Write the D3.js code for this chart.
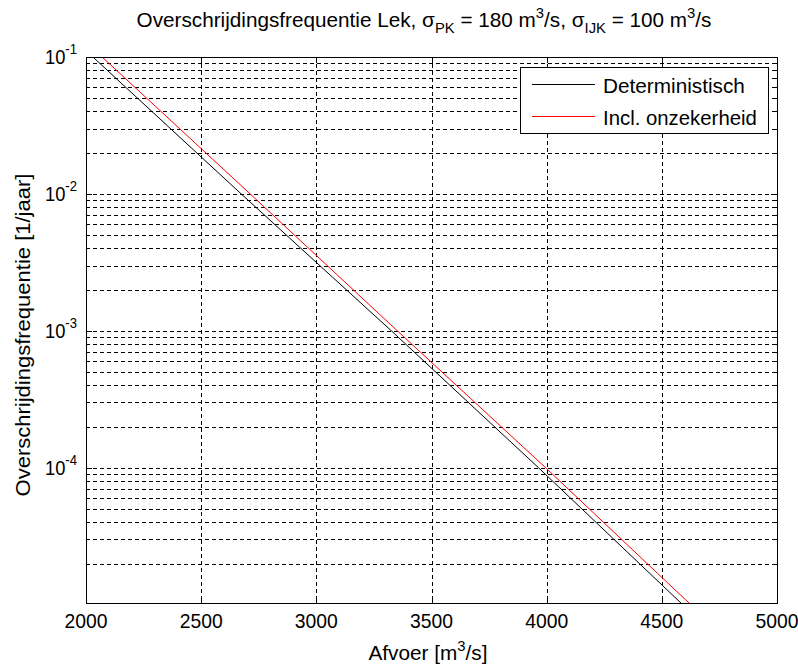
<!DOCTYPE html>
<html><head><meta charset="utf-8">
<script src="https://cdn.jsdelivr.net/npm/d3@7"></script>
<style>body{margin:0;background:#fff}svg{display:block}text{font-family:"Liberation Sans",Arial,sans-serif;fill:#000}</style>
</head><body>
<script>
// ---- data ----
const xTicks = [2000, 2500, 3000, 3500, 4000, 4500, 5000];
const yDecades = [1e-1, 1e-2, 1e-3, 1e-4];
const yDecadeExp = ["-1", "-2", "-3", "-4"];
const freq = [1e-1, 1e-2, 1e-3, 1e-4, 1e-5];
const afvoerDet = [2030, 2674, 3326, 3965, 4591];
const afvoerOnz = [2070, 2713, 3352, 3996, 4626];
const seriesNames = ["Deterministisch", "Incl. onzekerheid"];
const seriesColors = ["#000000", "#ff0000"];

const W = 798, H = 667;
const L = 86, R = 777, T = 57, B = 603;
const svg = d3.select("body").append("svg").attr("width", W).attr("height", H);
const x = d3.scaleLinear().domain([2000, 5000]).range([L, R]);
const y = d3.scaleLog().domain([1.03e-5, 0.1]).range([B, T]);
const FS = 21, SFS = 15;

// squeeze a text element horizontally to a target width, anchored at ax
function fit(sel, target, ax) {
  const w = sel.node().getBBox().width;
  const s = target / w;
  sel.attr("transform", `translate(${ax},0) scale(${s},1) translate(${-ax},0)`);
}

// grid
const minor = [];
for (let e = -5; e <= -2; e++) for (let m = 1; m <= 9; m++) {
  const v = m * Math.pow(10, e);
  if (v > y.domain()[0] && v < 0.1) minor.push(v);
}
const dash = "4,3";
svg.append("g").selectAll("line").data(minor).join("line")
  .attr("x1", L).attr("x2", R).attr("y1", d => Math.round(y(d)) + 0.5).attr("y2", d => Math.round(y(d)) + 0.5)
  .attr("stroke", "#000").attr("stroke-width", 1).attr("stroke-dasharray", dash);
svg.append("g").selectAll("line").data(xTicks.slice(1, -1)).join("line")
  .attr("x1", d => Math.round(x(d)) + 0.5).attr("x2", d => Math.round(x(d)) + 0.5).attr("y1", T).attr("y2", B)
  .attr("stroke", "#000").attr("stroke-width", 1).attr("stroke-dasharray", dash);

// clip
svg.append("clipPath").attr("id", "clip").append("rect").attr("x", L).attr("y", T).attr("width", R - L).attr("height", B - T);

const line = d3.line().x(d => x(d[0])).y(d => y(d[1]));
[afvoerDet, afvoerOnz].forEach((s, i) => {
  svg.append("path").attr("clip-path", "url(#clip)")
    .attr("d", line(s.map((q, j) => [q, freq[j]])))
    .attr("fill", "none").attr("stroke", seriesColors[i]).attr("stroke-width", 1);
});

// axes box
svg.append("rect").attr("x", L + 0.5).attr("y", T + 0.5).attr("width", R - L).attr("height", B - T)
  .attr("fill", "none").attr("stroke", "#000").attr("stroke-width", 1);

// ticks (inside)
const tk = svg.append("g").attr("stroke", "#000");
xTicks.forEach(v => {
  const px = Math.round(x(v)) + 0.5;
  tk.append("line").attr("x1", px).attr("x2", px).attr("y1", B).attr("y2", B - 6);
  tk.append("line").attr("x1", px).attr("x2", px).attr("y1", T).attr("y2", T + 6);
});
minor.concat([0.1]).forEach(v => {
  const py = Math.round(y(v)) + 0.5;
  const len = yDecades.includes(v) ? 6 : 4;
  tk.append("line").attr("x1", L).attr("x2", L + len).attr("y1", py).attr("y2", py);
  tk.append("line").attr("x1", R - len).attr("x2", R).attr("y1", py).attr("y2", py);
});

// x tick labels
svg.append("g").selectAll("text").data(xTicks).join("text")
  .attr("x", d => x(d)).attr("y", 628).attr("text-anchor", "middle").attr("font-size", FS)
  .text(d => d)
  .each(function (d) { fit(d3.select(this), 43, x(d)); });

// y tick labels
yDecades.forEach((v, i) => {
  const t = svg.append("text").attr("x", 77).attr("y", y(v) + 7).attr("text-anchor", "end").attr("font-size", FS);
  t.append("tspan").text("10");
  t.append("tspan").attr("dy", -10).attr("font-size", SFS).text(yDecadeExp[i]);
  fit(t, 32, 77);
});

// x label
const xl = svg.append("text").attr("x", 428).attr("y", 660).attr("text-anchor", "middle").attr("font-size", FS);
xl.append("tspan").text("Afvoer [m");
xl.append("tspan").attr("dy", -9).attr("font-size", SFS).text("3");
xl.append("tspan").attr("dy", 9).text("/s]");
fit(xl, 119, 428);

// y label
const ylg = svg.append("g").attr("transform", `translate(30,335) rotate(-90)`);
const yl = ylg.append("text").attr("x", 0).attr("y", 0).attr("text-anchor", "middle").attr("font-size", FS)
  .text("Overschrijdingsfrequentie [1/jaar]");
fit(yl, 323, 0);

// title
const tt = svg.append("text").attr("x", 424).attr("y", 27).attr("text-anchor", "middle").attr("font-size", FS);
tt.append("tspan").text("Overschrijdingsfrequentie Lek, σ");
tt.append("tspan").attr("dy", 6).attr("font-size", SFS).text("PK");
tt.append("tspan").attr("dy", -6).text(" = 180 m");
tt.append("tspan").attr("dy", -9).attr("font-size", SFS).text("3");
tt.append("tspan").attr("dy", 9).text("/s, σ");
tt.append("tspan").attr("dy", 6).attr("font-size", SFS).text("IJK");
tt.append("tspan").attr("dy", -6).text(" = 100 m");
tt.append("tspan").attr("dy", -9).attr("font-size", SFS).text("3");
tt.append("tspan").attr("dy", 9).text("/s");
fit(tt, 575, 424);

// legend
const lg = svg.append("g");
lg.append("rect").attr("x", 520.5).attr("y", 67.5).attr("width", 248).attr("height", 66)
  .attr("fill", "#fff").attr("stroke", "#000");
const legW = [142, 154];
seriesNames.forEach((n, i) => {
  const ly = i === 0 ? 84.5 : 116.5;
  lg.append("line").attr("x1", 532).attr("x2", 595).attr("y1", ly).attr("y2", ly).attr("stroke", seriesColors[i]);
  const t = lg.append("text").attr("x", 603).attr("y", ly + 9).attr("font-size", FS).text(n);
  fit(t, legW[i], 603);
});
</script>
</body></html>
